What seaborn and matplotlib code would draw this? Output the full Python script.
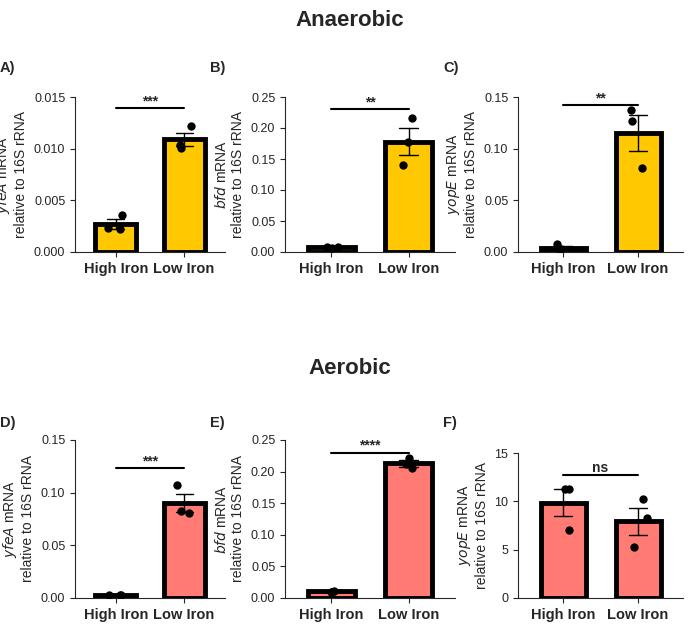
import numpy as np
import pandas as pd
import matplotlib
matplotlib.use("Agg")
import matplotlib.pyplot as plt
import seaborn as sns

sns.set_style("ticks")
plt.rcParams['font.family'] = ['Liberation Sans Narrow', 'Liberation Sans', 'DejaVu Sans']

groups = ["High Iron", "Low Iron"]
panel_labels = ["A)", "B)", "C)", "D)", "E)", "F)"]
genes = ["yfeA", "bfd", "yopE", "yfeA", "bfd", "yopE"]
high_vals = [[0.0036, 0.0023, 0.0022], [0.007, 0.008, 0.008], [0.008, 0.003, 0.002],
             [0.003, 0.003, 0.003], [0.010, 0.011, 0.010], [11.3, 11.3, 7.0]]
low_vals = [[0.0122, 0.0101, 0.0104], [0.216, 0.178, 0.140], [0.137, 0.127, 0.081],
            [0.107, 0.081, 0.083], [0.222, 0.205, 0.212], [10.2, 8.3, 5.3]]
ymax = [0.015, 0.25, 0.15, 0.15, 0.25, 15]
yticks = [[0, 0.005, 0.010, 0.015], [0, 0.05, 0.10, 0.15, 0.20, 0.25], [0, 0.05, 0.10, 0.15],
          [0, 0.05, 0.10, 0.15], [0, 0.05, 0.10, 0.15, 0.20, 0.25], [0, 5, 10, 15]]
ytick_fmt = ["{:.3f}", "{:.2f}", "{:.2f}", "{:.2f}", "{:.2f}", "{:.0f}"]
sig = ["***", "**", "**", "***", "****", "ns"]
sig_y = [0.0139, 0.23, 0.142, 0.123, 0.23, 12.7]
colors = ["#FFC800"] * 3 + ["#FF7B73"] * 3

W, H = 700, 630
fig = plt.figure(figsize=(7, 6.3), dpi=100)
fig.text(0.5, 1 - 20 / H, "Anaerobic", ha="center", va="center", fontsize=16, fontweight="bold", family=["Liberation Sans", "DejaVu Sans"])
fig.text(0.5, 1 - 368 / H, "Aerobic", ha="center", va="center", fontsize=16, fontweight="bold", family=["Liberation Sans", "DejaVu Sans"])

lefts = [75, 285, 518]
rights = [225, 455, 683]
rows = [(97, 252), (440, 598)]

rng = np.random.default_rng(3)
for i in range(6):
    r, c = divmod(i, 3)
    top, bot = rows[r]
    if i == 5:
        top = 453
    ax = fig.add_axes([lefts[c] / W, 1 - bot / H, (rights[c] - lefts[c]) / W, (bot - top) / H])
    df = pd.DataFrame({"group": [groups[0]] * 3 + [groups[1]] * 3,
                       "value": high_vals[i] + low_vals[i]})
    sns.barplot(data=df, x="group", y="value", errorbar="se", color=colors[i], width=0.6,
                edgecolor="black", linewidth=3.5, capsize=0.25, err_kws={"linewidth": 1, "color": "black"},
                saturation=1, ax=ax)
    sns.stripplot(data=df, x="group", y="value", color="black", size=6, jitter=0.12, ax=ax, zorder=5)
    ax.set_ylim(0, ymax[i])
    ax.set_yticks(yticks[i])
    ax.set_yticklabels([ytick_fmt[i].format(t) for t in yticks[i]], fontsize=9)
    ax.set_xlim(-0.6, 1.6)
    ax.set_xlabel("")
    ax.set_xticks([0, 1])
    ax.set_xticklabels(groups, fontsize=10.5, fontweight="bold")
    ax.set_ylabel(r"$\it{" + genes[i] + "}$ mRNA\nrelative to 16S rRNA", fontsize=10,
                  family=["Liberation Sans", "DejaVu Sans"])
    sns.despine(ax=ax)
    ax.plot([0, 1], [sig_y[i], sig_y[i]], color="black", lw=1.5)
    ax.text(0.5, sig_y[i], sig[i], ha="center", va="bottom", fontsize=10, fontweight="bold")
    fig.text((lefts[c] - 75) / W, 1 - (68 if r == 0 else 423) / H, panel_labels[i],
             fontsize=10.5, fontweight="bold", va="center", family=["Liberation Sans", "DejaVu Sans"])

fig.savefig("out.png", dpi=100)
